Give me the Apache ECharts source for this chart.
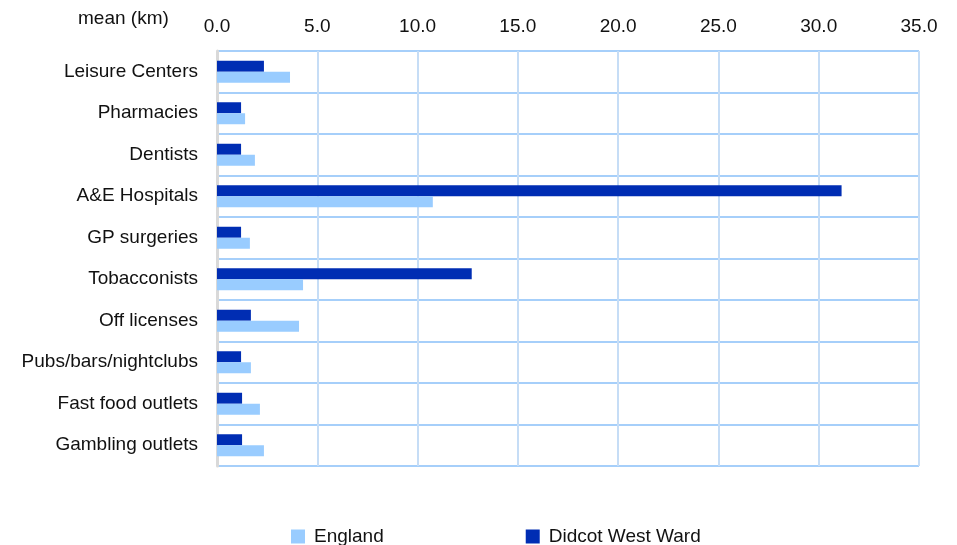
<!DOCTYPE html>
<html><head><meta charset="utf-8">
<script src="https://cdn.jsdelivr.net/npm/echarts@6/dist/echarts.min.js"></script>
<style>html,body{margin:0;padding:0;background:#fff}#c{width:957px;height:545px}</style>
</head><body><div id="c"></div>
<script>
const categories = ['Leisure Centers','Pharmacies','Dentists','A&E Hospitals','GP surgeries','Tobacconists','Off licenses','Pubs/bars/nightclubs','Fast food outlets','Gambling outlets'];
const englandValues = [3.64, 1.4, 1.89, 10.76, 1.64, 4.29, 4.09, 1.69, 2.14, 2.34];
const didcotValues = [2.34, 1.2, 1.2, 31.14, 1.2, 12.7, 1.69, 1.2, 1.25, 1.25];
const xTicks = [0, 5, 10, 15, 20, 25, 30, 35];
const seriesNames = ['England', 'Didcot West Ward'];

const FONT = '"Liberation Sans", Arial, sans-serif';
const chart = echarts.init(document.getElementById('c'));
chart.setOption({
  animation: false,
  title: { text: 'mean (km)', left: 73, top: 4, textStyle: { fontFamily: FONT, fontSize: 19, fontWeight: 'normal', color: '#111' } },
  legend: {
    data: seriesNames, left: 291, top: 527, padding: 0, itemWidth: 14, itemHeight: 14, itemGap: 142,
    icon: 'rect', textStyle: { fontFamily: FONT, fontSize: 19, color: '#111', padding: [0, 0, 0, 4] }
  },
  grid: { left: 217, right: 38, top: 51, bottom: 79, containLabel: false },
  xAxis: {
    type: 'value', position: 'top', min: xTicks[0], max: xTicks[xTicks.length - 1], interval: 5,
    axisLine: { show: false }, axisTick: { show: false },
    axisLabel: { formatter: v => v.toFixed(1), fontFamily: FONT, fontSize: 19, color: '#111', margin: 15 },
    splitLine: { lineStyle: { color: '#C6DDF6', width: 2 } }
  },
  yAxis: {
    type: 'category', data: categories, inverse: true,
    axisLine: { lineStyle: { color: '#D9D9D9', width: 3 } }, axisTick: { show: false },
    axisLabel: { fontFamily: FONT, fontSize: 19, color: '#111', margin: 19 },
    splitLine: { show: true, lineStyle: { color: '#A6CFFA', width: 2 } }
  },
  series: [
    { name: seriesNames[1], type: 'bar', data: didcotValues, barWidth: 11, barGap: '0%', itemStyle: { color: '#002DB3' } },
    { name: seriesNames[0], type: 'bar', data: englandValues, barWidth: 11, barGap: '0%', itemStyle: { color: '#99CCFF' } }
  ]
});
</script></body></html>
